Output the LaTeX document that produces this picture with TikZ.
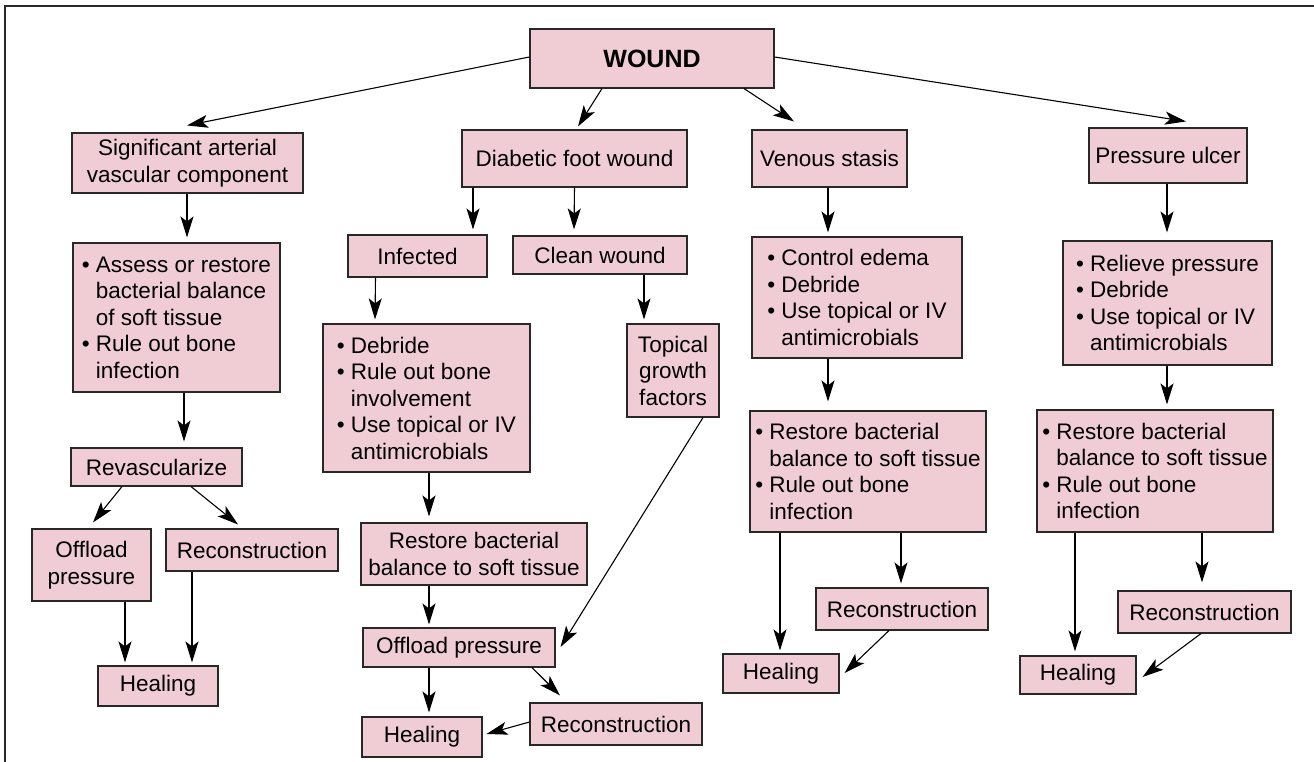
\documentclass[tikz,border=0pt]{standalone}
\usepackage{fontspec}
\setmainfont{Liberation Sans}
\usetikzlibrary{arrows.meta,calc}
\definecolor{boxpink}{RGB}{240,205,213}
\definecolor{boxline}{RGB}{40,40,40}
\newcommand{\bul}{\makebox[14pt][l]{\textbullet}}
\newcommand{\ind}{\hspace*{14pt}}
\begin{document}
\begin{tikzpicture}[x=1pt,y=-1pt,
 box/.style={draw=boxline, fill=boxpink, line width=1.1pt, inner sep=0pt, align=center, font=\fontsize{22.5}{26.5}\selectfont},
 listbox/.style={box, align=left},
 arr/.style={-{Stealth[length=21pt,width=13pt,inset=5pt]}, line width=1.1pt, black}]
\useasboundingbox (0,0) rectangle (1314,762);
\draw[line width=1.5pt, boxline] (5,762) -- (5,6) -- (1314,6);

\node[box, minimum width=244pt, minimum height=59pt, font=\fontsize{25}{28}\selectfont\bfseries] (wound) at (652,58.5) {WOUND};
\node[box, minimum width=231pt, minimum height=60pt] (art) at (187.5,163) {Significant arterial\\vascular component};
\node[box, minimum width=225pt, minimum height=57pt] (dia) at (574.5,158.5) {Diabetic foot wound};
\node[box, minimum width=155pt, minimum height=57pt] (ven) at (829.5,158.5) {Venous stasis};
\node[box, minimum width=158pt, minimum height=55pt] (pu) at (1168,155.5) {Pressure ulcer};

\node[listbox, minimum width=207pt, minimum height=149pt] (assess) at (176.5,317.5)
 {\bul Assess or restore\\ \ind bacterial balance\\ \ind of soft tissue\\ \bul Rule out bone\\ \ind infection};
\node[box, minimum width=139pt, minimum height=42pt] (inf) at (417.5,256) {Infected};
\node[box, minimum width=174pt, minimum height=38pt] (clean) at (600,255) {Clean wound};
\node[box, minimum width=92pt, minimum height=93pt] (top) at (673,370.5) {Topical\\growth\\factors};
\node[listbox, minimum width=210pt, minimum height=121pt] (venlist) at (857,297.5)
 {\bul Control edema\\ \bul Debride\\ \bul Use topical or IV\\ \ind antimicrobials};
\node[listbox, minimum width=209pt, minimum height=124pt] (pulist) at (1167.5,303)
 {\bul Relieve pressure\\ \bul Debride\\ \bul Use topical or IV\\ \ind antimicrobials};
\node[listbox, minimum width=207pt, minimum height=148pt] (inflist) at (426.5,398)
 {\bul Debride\\ \bul Rule out bone\\ \ind involvement\\ \bul Use topical or IV\\ \ind antimicrobials};

\node[box, minimum width=171pt, minimum height=38pt] (revasc) at (156.5,467) {Revascularize};
\node[box, minimum width=119pt, minimum height=72pt] (offL) at (91.5,565) {Offload\\pressure};
\node[box, minimum width=172pt, minimum height=42pt] (reconL) at (252,550) {Reconstruction};
\node[box, minimum width=120pt, minimum height=40pt] (healL) at (158,686) {Healing};

\node[box, minimum width=226pt, minimum height=62pt] (restD) at (474,554) {Restore bacterial\\balance to soft tissue};
\node[box, minimum width=192pt, minimum height=39pt] (offD) at (459,647.5) {Offload pressure};
\node[box, minimum width=120pt, minimum height=40pt] (healD) at (422,737) {Healing};
\node[box, minimum width=172pt, minimum height=42pt] (reconD) at (616,724) {Reconstruction};

\node[listbox, minimum width=236pt, minimum height=121pt] (venrest) at (868,471.5)
 {\bul Restore bacterial\\ \ind balance to soft tissue\\ \bul Rule out bone\\ \ind infection};
\node[box, minimum width=116pt, minimum height=39pt] (healV) at (781,673.5) {Healing};
\node[box, minimum width=172pt, minimum height=42pt] (reconV) at (902,609) {Reconstruction};

\node[listbox, minimum width=236pt, minimum height=122pt] (purest) at (1155,471)
 {\bul Restore bacterial\\ \ind balance to soft tissue\\ \bul Rule out bone\\ \ind infection};
\node[box, minimum width=116pt, minimum height=38pt] (healP) at (1078,675) {Healing};
\node[box, minimum width=173pt, minimum height=42pt] (reconP) at (1204.5,612) {Reconstruction};

% connectors
\draw[arr] ($(wound.west)+(0,-1.5)$) -- ($(art.north)+(-0.5,-7)$);
\draw[arr] ($(wound.south)+(-50,0)$) -- ($(dia.north)+(3.5,-3)$);
\draw[arr] ($(wound.south)+(92,0)$) -- ($(ven.north)+(-35.5,-8)$);
\draw[arr] ($(wound.east)+(0,-1.5)$) -- ($(pu.north)+(18,-6)$);
\draw[arr] ($(art.south)+(-0.5,0)$) -- ($(assess.north)+(10.5,-5)$);
\draw[arr] ($(dia.south)+(-101.5,0)$) -- ($(inf.north)+(55.5,-5)$);
\draw[arr] (dia.south) -- ($(clean.north)+(-26,-6)$);
\draw[arr] ($(clean.south)+(44,0)$) -- ($(top.north)+(-29,-4)$);
\draw[arr] ($(ven.south)+(-1.5,0)$) -- ($(venlist.north)+(-29,-4)$);
\draw[arr] ($(pu.south)+(-1,0)$) -- ($(pulist.north)+(-0.5,-8)$);
\draw[arr] ($(inf.south)+(-42,0)$) -- ($(inflist.north)+(-51.5,-4)$);
\draw[arr] ($(assess.south)+(7.5,0)$) -- ($(revasc.north)+(27.5,-6)$);
\draw[arr] ($(revasc.south)+(-34.5,0)$) -- ($(offL.north)+(1.5,-6)$);
\draw[arr] ($(revasc.south)+(34.5,0)$) -- ($(reconL.north)+(-14,-4)$);
\draw[arr] ($(offL.south)+(33.5,0)$) -- ($(healL.north)+(-33,-3)$);
\draw[arr] ($(reconL.south)+(-60,0)$) -- ($(healL.north)+(34,-3)$);
\draw[arr] ($(inflist.south)+(2.5,0)$) -- ($(restD.north)+(-45,-6)$);
\draw[arr] ($(restD.south)+(-45,0)$) -- ($(offD.north)+(-30,-3)$);
\draw[arr] ($(offD.south)+(-30,0)$) -- ($(healD.north)+(7,-4)$);
\draw[arr] ($(top.south)+(30,0)$) -- ($(offD.east)+(5,-0.5)$);
\draw[arr] ($(offD.south)+(73,0)$) -- ($(reconD.north)+(-56,-7)$);
\draw[arr] ($(reconD.west)+(0,-2)$) -- ($(healD.east)+(4,-3)$);
\draw[arr] ($(venlist.south)+(-29,0)$) -- ($(venrest.north)+(-40,-9)$);
\draw[arr] ($(venrest.south)+(-88,0)$) -- ($(healV.north)+(-1,-3)$);
\draw[arr] ($(venrest.south)+(33,0)$) -- ($(reconV.north)+(-1,-4)$);
\draw[arr] ($(reconV.south)+(-13,0)$) -- ($(healV.east)+(5,-0.5)$);
\draw[arr] ($(pulist.south)+(-0.5,0)$) -- ($(purest.north)+(12,-5)$);
\draw[arr] ($(purest.south)+(-80,0)$) -- ($(healP.north)+(-3,-4)$);
\draw[arr] ($(purest.south)+(47,0)$) -- ($(reconP.north)+(-2.5,-8)$);
\draw[arr] ($(reconP.south)+(-3.5,0)$) -- ($(healP.east)+(6,2)$);
\end{tikzpicture}
\end{document}
